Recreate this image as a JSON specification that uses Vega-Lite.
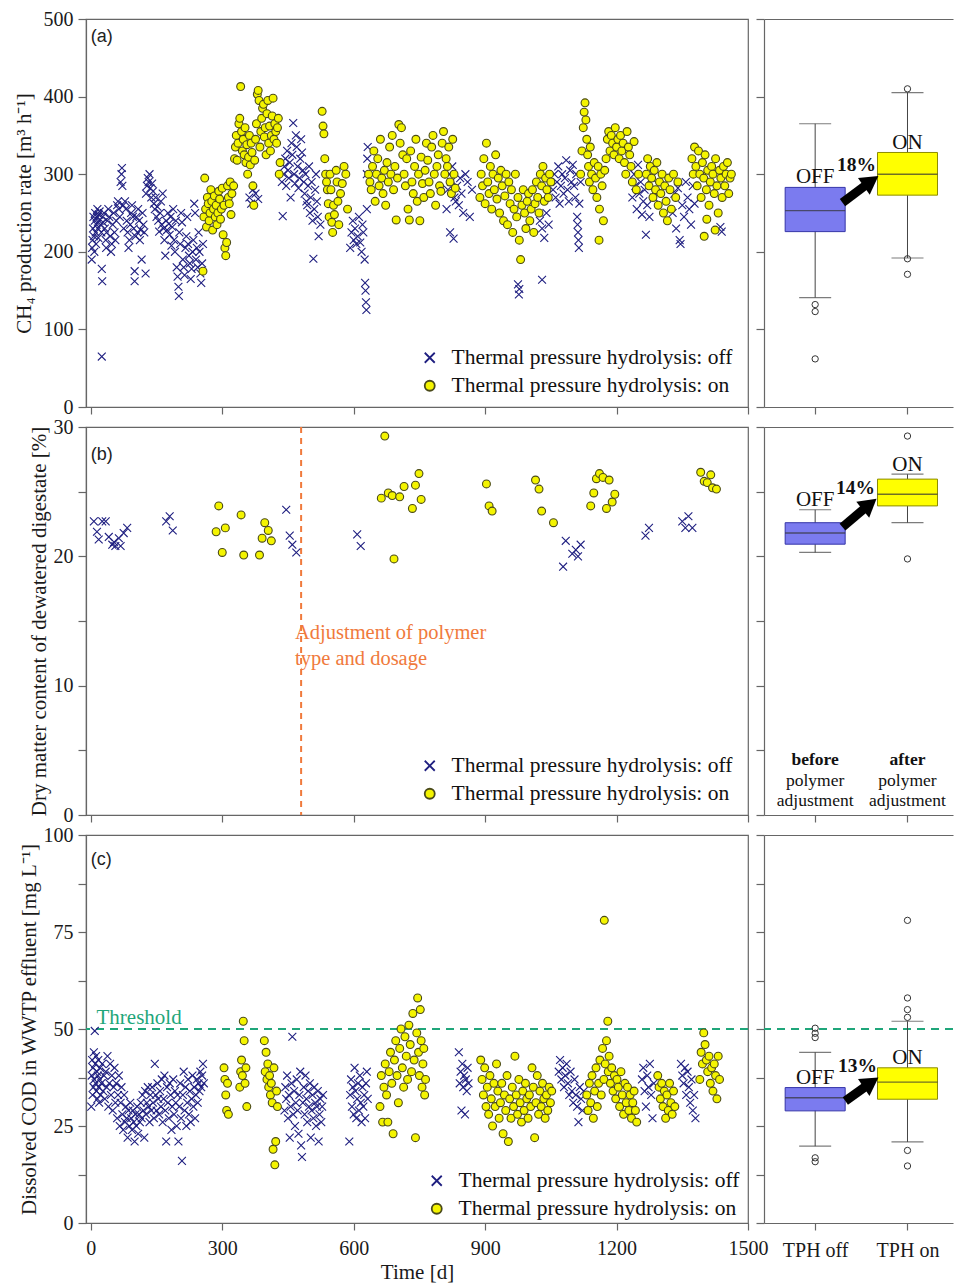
{
"$schema":"https://vega.github.io/schema/vega-lite/v6.json",
"background":"white",
"padding":{"left":12,"top":8,"right":0,"bottom":0},
"config":{
 "font":"Liberation Serif",
 "view":{"stroke":"#666","strokeWidth":1.2},
 "axis":{"grid":false,"domainColor":"#666","domainWidth":1.2,"tickColor":"#666","tickWidth":1.2,"labelFont":"Liberation Serif","labelFontSize":20,"labelColor":"#1a1a1a","labelFlush":false,"labelOverlap":false,"titleFont":"Liberation Serif","titleFontSize":21,"titleFontWeight":"normal","titleColor":"#1a1a1a"},
 "axisX":{"tickSize":7,"labelPadding":3},
 "axisY":{"tickSize":8,"labelPadding":5},
 "legend":{"labelFont":"Liberation Serif","labelFontSize":21.5,"labelColor":"#111","labelLimit":400,"symbolSize":100,"symbolStrokeWidth":1.8,"rowPadding":5,"labelOffset":11,"orient":"none","padding":0}
},
"datasets":{
"a":[
{"d":2,"v":190,"s":"off"},{"d":3,"v":205,"s":"off"},{"d":4,"v":215,"s":"off"},{"d":5,"v":230,"s":"off"},{"d":6,"v":245,"s":"off"},{"d":7,"v":220,"s":"off"},{"d":8,"v":200,"s":"off"},{"d":9,"v":240,"s":"off"},{"d":10,"v":250,"s":"off"},{"d":11,"v":225,"s":"off"},{"d":12,"v":210,"s":"off"},{"d":13,"v":235,"s":"off"},{"d":14,"v":245,"s":"off"},{"d":15,"v":255,"s":"off"},{"d":16,"v":230,"s":"off"},{"d":17,"v":218,"s":"off"},{"d":18,"v":248,"s":"off"},{"d":19,"v":240,"s":"off"},{"d":20,"v":252,"s":"off"},{"d":22,"v":235,"s":"off"},{"d":24,"v":225,"s":"off"},{"d":25,"v":65,"s":"off"},{"d":25,"v":178,"s":"off"},{"d":26,"v":162,"s":"off"},{"d":27,"v":245,"s":"off"},{"d":28,"v":238,"s":"off"},{"d":30,"v":250,"s":"off"},{"d":32,"v":230,"s":"off"},{"d":34,"v":215,"s":"off"},{"d":35,"v":205,"s":"off"},{"d":36,"v":225,"s":"off"},{"d":38,"v":240,"s":"off"},
{"d":40,"v":255,"s":"off"},{"d":42,"v":245,"s":"off"},{"d":44,"v":220,"s":"off"},{"d":46,"v":200,"s":"off"},{"d":48,"v":210,"s":"off"},{"d":50,"v":235,"s":"off"},{"d":52,"v":250,"s":"off"},{"d":54,"v":225,"s":"off"},{"d":56,"v":215,"s":"off"},{"d":58,"v":240,"s":"off"},{"d":60,"v":260,"s":"off"},{"d":62,"v":265,"s":"off"},{"d":64,"v":255,"s":"off"},{"d":66,"v":245,"s":"off"},{"d":68,"v":290,"s":"off"},{"d":70,"v":300,"s":"off"},{"d":71,"v":308,"s":"off"},{"d":72,"v":285,"s":"off"},{"d":74,"v":260,"s":"off"},{"d":75,"v":230,"s":"off"},
{"d":78,"v":265,"s":"off"},{"d":80,"v":255,"s":"off"},{"d":82,"v":240,"s":"off"},{"d":84,"v":225,"s":"off"},{"d":86,"v":205,"s":"off"},{"d":88,"v":215,"s":"off"},{"d":90,"v":235,"s":"off"},{"d":92,"v":250,"s":"off"},{"d":94,"v":260,"s":"off"},{"d":96,"v":245,"s":"off"},{"d":98,"v":230,"s":"off"},{"d":100,"v":175,"s":"off"},{"d":100,"v":162,"s":"off"},{"d":102,"v":220,"s":"off"},{"d":104,"v":245,"s":"off"},{"d":106,"v":225,"s":"off"},{"d":108,"v":255,"s":"off"},{"d":110,"v":240,"s":"off"},{"d":112,"v":215,"s":"off"},{"d":114,"v":228,"s":"off"},{"d":116,"v":190,"s":"off"},{"d":118,"v":250,"s":"off"},{"d":120,"v":235,"s":"off"},{"d":122,"v":225,"s":"off"},
{"d":125,"v":172,"s":"off"},{"d":126,"v":275,"s":"off"},{"d":128,"v":285,"s":"off"},{"d":130,"v":295,"s":"off"},{"d":132,"v":290,"s":"off"},{"d":134,"v":300,"s":"off"},{"d":136,"v":282,"s":"off"},{"d":138,"v":270,"s":"off"},{"d":140,"v":288,"s":"off"},{"d":142,"v":278,"s":"off"},{"d":144,"v":262,"s":"off"},{"d":146,"v":255,"s":"off"},{"d":148,"v":270,"s":"off"},{"d":150,"v":245,"s":"off"},{"d":152,"v":258,"s":"off"},{"d":154,"v":240,"s":"off"},{"d":156,"v":226,"s":"off"},{"d":158,"v":250,"s":"off"},{"d":160,"v":265,"s":"off"},{"d":162,"v":235,"s":"off"},{"d":164,"v":275,"s":"off"},
{"d":166,"v":230,"s":"off"},{"d":168,"v":215,"s":"off"},{"d":170,"v":195,"s":"off"},{"d":172,"v":240,"s":"off"},{"d":174,"v":228,"s":"off"},{"d":176,"v":250,"s":"off"},{"d":178,"v":236,"s":"off"},{"d":180,"v":222,"s":"off"},{"d":182,"v":245,"s":"off"},{"d":184,"v":208,"s":"off"},{"d":186,"v":232,"s":"off"},{"d":188,"v":255,"s":"off"},{"d":190,"v":215,"s":"off"},{"d":192,"v":200,"s":"off"},{"d":194,"v":240,"s":"off"},{"d":196,"v":180,"s":"off"},{"d":198,"v":168,"s":"off"},{"d":200,"v":155,"s":"off"},{"d":201,"v":143,"s":"off"},{"d":202,"v":225,"s":"off"},{"d":204,"v":210,"s":"off"},{"d":206,"v":250,"s":"off"},{"d":208,"v":238,"s":"off"},{"d":210,"v":190,"s":"off"},
{"d":212,"v":180,"s":"off"},{"d":214,"v":170,"s":"off"},{"d":216,"v":205,"s":"off"},{"d":218,"v":220,"s":"off"},{"d":220,"v":245,"s":"off"},{"d":222,"v":210,"s":"off"},{"d":224,"v":195,"s":"off"},{"d":226,"v":185,"s":"off"},{"d":228,"v":165,"s":"off"},{"d":230,"v":178,"s":"off"},{"d":232,"v":200,"s":"off"},{"d":234,"v":215,"s":"off"},{"d":236,"v":262,"s":"off"},{"d":238,"v":250,"s":"off"},{"d":240,"v":190,"s":"off"},{"d":242,"v":205,"s":"off"},{"d":244,"v":180,"s":"off"},{"d":246,"v":225,"s":"off"},{"d":248,"v":200,"s":"off"},{"d":250,"v":172,"s":"off"},{"d":252,"v":160,"s":"off"},{"d":254,"v":185,"s":"off"},{"d":256,"v":210,"s":"off"},
{"d":362,"v":270,"s":"off"},{"d":366,"v":262,"s":"off"},{"d":370,"v":280,"s":"off"},{"d":376,"v":275,"s":"off"},{"d":382,"v":268,"s":"off"},
{"d":436,"v":290,"s":"off"},{"d":438,"v":246,"s":"off"},{"d":440,"v":300,"s":"off"},{"d":442,"v":310,"s":"off"},{"d":444,"v":320,"s":"off"},{"d":446,"v":285,"s":"off"},{"d":448,"v":330,"s":"off"},{"d":450,"v":305,"s":"off"},{"d":452,"v":295,"s":"off"},{"d":454,"v":315,"s":"off"},{"d":456,"v":270,"s":"off"},{"d":458,"v":340,"s":"off"},{"d":460,"v":325,"s":"off"},{"d":462,"v":366,"s":"off"},{"d":464,"v":300,"s":"off"},{"d":466,"v":288,"s":"off"},{"d":468,"v":350,"s":"off"},{"d":470,"v":335,"s":"off"},{"d":472,"v":310,"s":"off"},{"d":474,"v":282,"s":"off"},{"d":476,"v":295,"s":"off"},{"d":478,"v":320,"s":"off"},{"d":480,"v":345,"s":"off"},{"d":482,"v":328,"s":"off"},{"d":484,"v":305,"s":"off"},{"d":486,"v":290,"s":"off"},{"d":488,"v":275,"s":"off"},{"d":490,"v":300,"s":"off"},{"d":492,"v":265,"s":"off"},{"d":494,"v":260,"s":"off"},{"d":496,"v":285,"s":"off"},{"d":498,"v":310,"s":"off"},{"d":500,"v":250,"s":"off"},{"d":502,"v":270,"s":"off"},{"d":504,"v":290,"s":"off"},{"d":506,"v":240,"s":"off"},{"d":508,"v":191,"s":"off"},{"d":510,"v":255,"s":"off"},{"d":512,"v":280,"s":"off"},{"d":514,"v":300,"s":"off"},{"d":516,"v":265,"s":"off"},{"d":518,"v":245,"s":"off"},{"d":520,"v":220,"s":"off"},{"d":524,"v":235,"s":"off"},
{"d":592,"v":205,"s":"off"},{"d":595,"v":225,"s":"off"},{"d":598,"v":240,"s":"off"},{"d":600,"v":215,"s":"off"},{"d":603,"v":230,"s":"off"},{"d":606,"v":210,"s":"off"},{"d":609,"v":220,"s":"off"},{"d":612,"v":245,"s":"off"},{"d":615,"v":212,"s":"off"},{"d":618,"v":200,"s":"off"},{"d":620,"v":235,"s":"off"},{"d":622,"v":225,"s":"off"},{"d":625,"v":190,"s":"off"},{"d":626,"v":160,"s":"off"},{"d":627,"v":150,"s":"off"},{"d":628,"v":135,"s":"off"},{"d":629,"v":125,"s":"off"},{"d":630,"v":300,"s":"off"},{"d":631,"v":320,"s":"off"},{"d":632,"v":335,"s":"off"},{"d":630,"v":255,"s":"off"},
{"d":812,"v":255,"s":"off"},{"d":815,"v":280,"s":"off"},{"d":818,"v":300,"s":"off"},{"d":820,"v":225,"s":"off"},{"d":822,"v":290,"s":"off"},{"d":825,"v":310,"s":"off"},{"d":828,"v":217,"s":"off"},{"d":830,"v":270,"s":"off"},{"d":833,"v":265,"s":"off"},{"d":836,"v":285,"s":"off"},{"d":840,"v":260,"s":"off"},{"d":843,"v":295,"s":"off"},{"d":846,"v":275,"s":"off"},{"d":850,"v":250,"s":"off"},{"d":855,"v":300,"s":"off"},{"d":860,"v":290,"s":"off"},{"d":865,"v":245,"s":"off"},{"d":870,"v":280,"s":"off"},
{"d":975,"v":158,"s":"off"},{"d":977,"v":145,"s":"off"},{"d":978,"v":152,"s":"off"},{"d":1030,"v":164,"s":"off"},{"d":1025,"v":240,"s":"off"},{"d":1030,"v":230,"s":"off"},{"d":1035,"v":218,"s":"off"},{"d":1040,"v":250,"s":"off"},{"d":1045,"v":235,"s":"off"},
{"d":1055,"v":280,"s":"off"},{"d":1058,"v":300,"s":"off"},{"d":1061,"v":270,"s":"off"},{"d":1064,"v":290,"s":"off"},{"d":1067,"v":310,"s":"off"},{"d":1070,"v":262,"s":"off"},{"d":1073,"v":285,"s":"off"},{"d":1076,"v":300,"s":"off"},{"d":1079,"v":275,"s":"off"},{"d":1082,"v":295,"s":"off"},{"d":1085,"v":318,"s":"off"},{"d":1088,"v":280,"s":"off"},{"d":1091,"v":265,"s":"off"},{"d":1094,"v":305,"s":"off"},{"d":1097,"v":290,"s":"off"},{"d":1100,"v":312,"s":"off"},{"d":1103,"v":285,"s":"off"},{"d":1106,"v":270,"s":"off"},{"d":1108,"v":300,"s":"off"},{"d":1110,"v":245,"s":"off"},{"d":1111,"v":235,"s":"off"},{"d":1112,"v":225,"s":"off"},{"d":1113,"v":215,"s":"off"},{"d":1114,"v":205,"s":"off"},{"d":1115,"v":262,"s":"off"},{"d":1118,"v":290,"s":"off"},
{"d":1236,"v":270,"s":"off"},{"d":1240,"v":300,"s":"off"},{"d":1243,"v":285,"s":"off"},{"d":1246,"v":255,"s":"off"},{"d":1249,"v":312,"s":"off"},{"d":1252,"v":275,"s":"off"},{"d":1255,"v":290,"s":"off"},{"d":1258,"v":248,"s":"off"},{"d":1261,"v":265,"s":"off"},{"d":1264,"v":280,"s":"off"},{"d":1267,"v":222,"s":"off"},{"d":1270,"v":260,"s":"off"},{"d":1275,"v":245,"s":"off"},{"d":1280,"v":295,"s":"off"},{"d":1285,"v":270,"s":"off"},
{"d":1328,"v":250,"s":"off"},{"d":1332,"v":275,"s":"off"},{"d":1336,"v":230,"s":"off"},{"d":1340,"v":282,"s":"off"},{"d":1344,"v":215,"s":"off"},{"d":1346,"v":210,"s":"off"},{"d":1350,"v":260,"s":"off"},{"d":1354,"v":245,"s":"off"},{"d":1358,"v":290,"s":"off"},{"d":1362,"v":270,"s":"off"},{"d":1366,"v":255,"s":"off"},{"d":1370,"v":235,"s":"off"},{"d":1374,"v":285,"s":"off"},{"d":1378,"v":262,"s":"off"},
{"d":1437,"v":232,"s":"off"},{"d":1440,"v":226,"s":"off"},
{"d":256,"v":175,"s":"on"},{"d":258,"v":245,"s":"on"},{"d":260,"v":295,"s":"on"},{"d":262,"v":255,"s":"on"},{"d":264,"v":232,"s":"on"},{"d":266,"v":270,"s":"on"},{"d":268,"v":262,"s":"on"},{"d":270,"v":240,"s":"on"},{"d":272,"v":250,"s":"on"},{"d":274,"v":280,"s":"on"},{"d":276,"v":265,"s":"on"},{"d":278,"v":228,"s":"on"},{"d":280,"v":255,"s":"on"},{"d":282,"v":272,"s":"on"},{"d":284,"v":245,"s":"on"},{"d":286,"v":260,"s":"on"},{"d":288,"v":235,"s":"on"},{"d":290,"v":250,"s":"on"},{"d":292,"v":278,"s":"on"},{"d":294,"v":268,"s":"on"},{"d":296,"v":242,"s":"on"},{"d":298,"v":255,"s":"on"},{"d":300,"v":282,"s":"on"},{"d":302,"v":222,"s":"on"},{"d":304,"v":260,"s":"on"},{"d":306,"v":205,"s":"on"},{"d":308,"v":195,"s":"on"},{"d":310,"v":212,"s":"on"},{"d":312,"v":285,"s":"on"},{"d":314,"v":270,"s":"on"},{"d":316,"v":262,"s":"on"},{"d":318,"v":290,"s":"on"},{"d":320,"v":248,"s":"on"},{"d":322,"v":275,"s":"on"},
{"d":326,"v":285,"s":"on"},{"d":328,"v":320,"s":"on"},{"d":330,"v":335,"s":"on"},{"d":332,"v":350,"s":"on"},{"d":334,"v":318,"s":"on"},{"d":336,"v":340,"s":"on"},{"d":338,"v":365,"s":"on"},{"d":340,"v":372,"s":"on"},{"d":342,"v":413,"s":"on"},{"d":344,"v":355,"s":"on"},{"d":346,"v":330,"s":"on"},{"d":348,"v":345,"s":"on"},{"d":350,"v":325,"s":"on"},{"d":352,"v":360,"s":"on"},{"d":354,"v":315,"s":"on"},{"d":356,"v":338,"s":"on"},{"d":358,"v":300,"s":"on"},{"d":360,"v":322,"s":"on"},{"d":362,"v":350,"s":"on"},{"d":364,"v":312,"s":"on"},{"d":366,"v":340,"s":"on"},{"d":368,"v":328,"s":"on"},{"d":370,"v":285,"s":"on"},{"d":372,"v":260,"s":"on"},
{"d":374,"v":318,"s":"on"},{"d":376,"v":345,"s":"on"},{"d":378,"v":365,"s":"on"},{"d":380,"v":403,"s":"on"},{"d":382,"v":408,"s":"on"},{"d":384,"v":395,"s":"on"},{"d":386,"v":335,"s":"on"},{"d":388,"v":355,"s":"on"},{"d":390,"v":372,"s":"on"},{"d":392,"v":385,"s":"on"},{"d":394,"v":390,"s":"on"},{"d":396,"v":348,"s":"on"},{"d":398,"v":360,"s":"on"},{"d":400,"v":325,"s":"on"},{"d":402,"v":378,"s":"on"},{"d":404,"v":395,"s":"on"},{"d":406,"v":340,"s":"on"},{"d":408,"v":362,"s":"on"},{"d":410,"v":330,"s":"on"},{"d":412,"v":350,"s":"on"},{"d":414,"v":375,"s":"on"},{"d":416,"v":398,"s":"on"},{"d":418,"v":345,"s":"on"},{"d":420,"v":365,"s":"on"},{"d":422,"v":355,"s":"on"},{"d":424,"v":340,"s":"on"},{"d":426,"v":360,"s":"on"},{"d":428,"v":372,"s":"on"},{"d":430,"v":300,"s":"on"},{"d":432,"v":315,"s":"on"},
{"d":528,"v":381,"s":"on"},{"d":530,"v":362,"s":"on"},{"d":532,"v":352,"s":"on"},{"d":534,"v":320,"s":"on"},{"d":536,"v":300,"s":"on"},{"d":538,"v":290,"s":"on"},{"d":540,"v":280,"s":"on"},{"d":542,"v":262,"s":"on"},{"d":544,"v":245,"s":"on"},{"d":546,"v":300,"s":"on"},{"d":548,"v":280,"s":"on"},{"d":550,"v":238,"s":"on"},{"d":552,"v":225,"s":"on"},{"d":554,"v":260,"s":"on"},{"d":556,"v":248,"s":"on"},{"d":560,"v":305,"s":"on"},{"d":562,"v":290,"s":"on"},{"d":564,"v":265,"s":"on"},{"d":566,"v":235,"s":"on"},{"d":570,"v":275,"s":"on"},{"d":574,"v":288,"s":"on"},{"d":578,"v":310,"s":"on"},{"d":582,"v":300,"s":"on"},{"d":586,"v":255,"s":"on"},
{"d":634,"v":300,"s":"on"},{"d":637,"v":290,"s":"on"},{"d":640,"v":280,"s":"on"},{"d":643,"v":310,"s":"on"},{"d":646,"v":330,"s":"on"},{"d":649,"v":265,"s":"on"},{"d":652,"v":300,"s":"on"},{"d":655,"v":320,"s":"on"},{"d":658,"v":285,"s":"on"},{"d":661,"v":345,"s":"on"},{"d":664,"v":295,"s":"on"},{"d":667,"v":275,"s":"on"},{"d":670,"v":305,"s":"on"},{"d":673,"v":260,"s":"on"},{"d":676,"v":315,"s":"on"},{"d":679,"v":290,"s":"on"},{"d":682,"v":335,"s":"on"},{"d":685,"v":300,"s":"on"},{"d":688,"v":350,"s":"on"},{"d":691,"v":280,"s":"on"},{"d":694,"v":310,"s":"on"},{"d":697,"v":241,"s":"on"},{"d":700,"v":295,"s":"on"},{"d":703,"v":364,"s":"on"},{"d":706,"v":340,"s":"on"},{"d":709,"v":360,"s":"on"},{"d":712,"v":325,"s":"on"},{"d":715,"v":300,"s":"on"},{"d":718,"v":285,"s":"on"},{"d":721,"v":320,"s":"on"},{"d":724,"v":255,"s":"on"},{"d":727,"v":241,"s":"on"},{"d":730,"v":330,"s":"on"},{"d":733,"v":290,"s":"on"},{"d":736,"v":275,"s":"on"},{"d":739,"v":310,"s":"on"},{"d":742,"v":345,"s":"on"},{"d":745,"v":265,"s":"on"},{"d":748,"v":300,"s":"on"},{"d":751,"v":240,"s":"on"},{"d":754,"v":322,"s":"on"},{"d":757,"v":288,"s":"on"},{"d":760,"v":270,"s":"on"},{"d":763,"v":305,"s":"on"},{"d":766,"v":340,"s":"on"},{"d":769,"v":318,"s":"on"},{"d":772,"v":290,"s":"on"},{"d":775,"v":275,"s":"on"},{"d":778,"v":335,"s":"on"},{"d":781,"v":350,"s":"on"},{"d":784,"v":300,"s":"on"},{"d":787,"v":260,"s":"on"},{"d":790,"v":310,"s":"on"},{"d":793,"v":325,"s":"on"},{"d":796,"v":285,"s":"on"},{"d":799,"v":278,"s":"on"},{"d":802,"v":340,"s":"on"},{"d":805,"v":355,"s":"on"},{"d":808,"v":300,"s":"on"},{"d":811,"v":320,"s":"on"},{"d":814,"v":310,"s":"on"},{"d":817,"v":335,"s":"on"},{"d":820,"v":290,"s":"on"},{"d":823,"v":275,"s":"on"},{"d":826,"v":345,"s":"on"},{"d":829,"v":300,"s":"on"},{"d":832,"v":282,"s":"on"},
{"d":888,"v":270,"s":"on"},{"d":891,"v":300,"s":"on"},{"d":894,"v":285,"s":"on"},{"d":897,"v":320,"s":"on"},{"d":900,"v":262,"s":"on"},{"d":903,"v":340,"s":"on"},{"d":906,"v":290,"s":"on"},{"d":909,"v":275,"s":"on"},{"d":912,"v":310,"s":"on"},{"d":915,"v":255,"s":"on"},{"d":918,"v":300,"s":"on"},{"d":921,"v":280,"s":"on"},{"d":924,"v":325,"s":"on"},{"d":927,"v":268,"s":"on"},{"d":930,"v":295,"s":"on"},{"d":933,"v":250,"s":"on"},{"d":936,"v":305,"s":"on"},{"d":939,"v":285,"s":"on"},{"d":942,"v":240,"s":"on"},{"d":945,"v":272,"s":"on"},{"d":948,"v":300,"s":"on"},{"d":951,"v":235,"s":"on"},{"d":954,"v":290,"s":"on"},{"d":957,"v":262,"s":"on"},{"d":960,"v":280,"s":"on"},{"d":963,"v":225,"s":"on"},{"d":966,"v":255,"s":"on"},{"d":969,"v":300,"s":"on"},{"d":972,"v":245,"s":"on"},{"d":975,"v":270,"s":"on"},{"d":978,"v":215,"s":"on"},{"d":981,"v":190,"s":"on"},{"d":984,"v":260,"s":"on"},{"d":987,"v":280,"s":"on"},{"d":990,"v":250,"s":"on"},{"d":993,"v":230,"s":"on"},{"d":996,"v":265,"s":"on"},{"d":999,"v":275,"s":"on"},{"d":1002,"v":240,"s":"on"},{"d":1005,"v":255,"s":"on"},{"d":1008,"v":280,"s":"on"},{"d":1011,"v":225,"s":"on"},{"d":1014,"v":262,"s":"on"},{"d":1017,"v":290,"s":"on"},{"d":1020,"v":270,"s":"on"},{"d":1023,"v":250,"s":"on"},{"d":1026,"v":300,"s":"on"},{"d":1029,"v":285,"s":"on"},{"d":1032,"v":310,"s":"on"},{"d":1035,"v":265,"s":"on"},{"d":1038,"v":295,"s":"on"},{"d":1041,"v":280,"s":"on"},{"d":1044,"v":270,"s":"on"},{"d":1047,"v":300,"s":"on"},{"d":1050,"v":290,"s":"on"},
{"d":1118,"v":300,"s":"on"},{"d":1121,"v":330,"s":"on"},{"d":1124,"v":360,"s":"on"},{"d":1126,"v":380,"s":"on"},{"d":1128,"v":392,"s":"on"},{"d":1130,"v":370,"s":"on"},{"d":1132,"v":345,"s":"on"},{"d":1134,"v":325,"s":"on"},{"d":1136,"v":310,"s":"on"},{"d":1138,"v":290,"s":"on"},{"d":1140,"v":335,"s":"on"},{"d":1143,"v":300,"s":"on"},{"d":1146,"v":280,"s":"on"},{"d":1149,"v":315,"s":"on"},{"d":1152,"v":295,"s":"on"},{"d":1155,"v":270,"s":"on"},{"d":1158,"v":310,"s":"on"},{"d":1160,"v":215,"s":"on"},{"d":1161,"v":255,"s":"on"},{"d":1164,"v":300,"s":"on"},{"d":1167,"v":285,"s":"on"},{"d":1170,"v":240,"s":"on"},{"d":1173,"v":305,"s":"on"},{"d":1176,"v":320,"s":"on"},{"d":1179,"v":345,"s":"on"},{"d":1182,"v":355,"s":"on"},{"d":1185,"v":330,"s":"on"},{"d":1188,"v":350,"s":"on"},{"d":1191,"v":340,"s":"on"},{"d":1194,"v":325,"s":"on"},{"d":1197,"v":360,"s":"on"},{"d":1200,"v":335,"s":"on"},{"d":1203,"v":345,"s":"on"},{"d":1206,"v":320,"s":"on"},{"d":1209,"v":350,"s":"on"},{"d":1212,"v":330,"s":"on"},{"d":1215,"v":340,"s":"on"},{"d":1218,"v":315,"s":"on"},{"d":1221,"v":300,"s":"on"},{"d":1224,"v":355,"s":"on"},{"d":1227,"v":335,"s":"on"},{"d":1230,"v":325,"s":"on"},{"d":1233,"v":310,"s":"on"},{"d":1236,"v":290,"s":"on"},{"d":1240,"v":342,"s":"on"},{"d":1245,"v":280,"s":"on"},{"d":1250,"v":300,"s":"on"},
{"d":1268,"v":300,"s":"on"},{"d":1271,"v":320,"s":"on"},{"d":1274,"v":285,"s":"on"},{"d":1277,"v":310,"s":"on"},{"d":1280,"v":295,"s":"on"},{"d":1283,"v":270,"s":"on"},{"d":1286,"v":305,"s":"on"},{"d":1289,"v":280,"s":"on"},{"d":1292,"v":315,"s":"on"},{"d":1295,"v":260,"s":"on"},{"d":1298,"v":290,"s":"on"},{"d":1301,"v":275,"s":"on"},{"d":1304,"v":300,"s":"on"},{"d":1307,"v":250,"s":"on"},{"d":1310,"v":285,"s":"on"},{"d":1313,"v":265,"s":"on"},{"d":1316,"v":240,"s":"on"},{"d":1319,"v":295,"s":"on"},{"d":1322,"v":280,"s":"on"},{"d":1325,"v":255,"s":"on"},{"d":1330,"v":300,"s":"on"},{"d":1335,"v":270,"s":"on"},{"d":1340,"v":290,"s":"on"},
{"d":1372,"v":320,"s":"on"},{"d":1375,"v":300,"s":"on"},{"d":1378,"v":335,"s":"on"},{"d":1381,"v":310,"s":"on"},{"d":1384,"v":285,"s":"on"},{"d":1387,"v":330,"s":"on"},{"d":1390,"v":300,"s":"on"},{"d":1393,"v":270,"s":"on"},{"d":1396,"v":315,"s":"on"},{"d":1399,"v":295,"s":"on"},{"d":1400,"v":220,"s":"on"},{"d":1402,"v":325,"s":"on"},{"d":1405,"v":280,"s":"on"},{"d":1406,"v":242,"s":"on"},{"d":1408,"v":305,"s":"on"},{"d":1411,"v":260,"s":"on"},{"d":1414,"v":290,"s":"on"},{"d":1417,"v":310,"s":"on"},{"d":1420,"v":300,"s":"on"},{"d":1423,"v":275,"s":"on"},{"d":1425,"v":228,"s":"on"},{"d":1426,"v":320,"s":"on"},{"d":1429,"v":285,"s":"on"},{"d":1432,"v":250,"s":"on"},{"d":1435,"v":305,"s":"on"},{"d":1438,"v":295,"s":"on"},{"d":1441,"v":270,"s":"on"},{"d":1444,"v":310,"s":"on"},{"d":1447,"v":285,"s":"on"},{"d":1450,"v":300,"s":"on"},{"d":1453,"v":315,"s":"on"},{"d":1456,"v":275,"s":"on"},{"d":1459,"v":295,"s":"on"},{"d":1462,"v":300,"s":"on"}
],
"b":[
{"d":7,"v":22.7,"s":"off"},{"d":14,"v":21.9,"s":"off"},{"d":18,"v":21.3,"s":"off"},{"d":26,"v":22.7,"s":"off"},{"d":34,"v":22.7,"s":"off"},{"d":41,"v":21.5,"s":"off"},{"d":49,"v":20.9,"s":"off"},{"d":53,"v":21.1,"s":"off"},{"d":56,"v":20.8,"s":"off"},{"d":64,"v":21.4,"s":"off"},{"d":68,"v":20.8,"s":"off"},{"d":75,"v":21.8,"s":"off"},{"d":83,"v":22.2,"s":"off"},{"d":172,"v":22.7,"s":"off"},{"d":180,"v":23.1,"s":"off"},{"d":187,"v":22.0,"s":"off"},{"d":446,"v":23.6,"s":"off"},{"d":454,"v":21.6,"s":"off"},{"d":460,"v":20.9,"s":"off"},{"d":469,"v":20.3,"s":"off"},{"d":608,"v":21.7,"s":"off"},{"d":616,"v":20.8,"s":"off"},{"d":1078,"v":19.2,"s":"off"},{"d":1084,"v":21.2,"s":"off"},{"d":1099,"v":20.2,"s":"off"},{"d":1107,"v":20.5,"s":"off"},{"d":1112,"v":20.0,"s":"off"},{"d":1118,"v":20.9,"s":"off"},{"d":1266,"v":21.6,"s":"off"},{"d":1274,"v":22.2,"s":"off"},{"d":1350,"v":22.7,"s":"off"},{"d":1357,"v":22.2,"s":"off"},{"d":1364,"v":23.1,"s":"off"},{"d":1373,"v":22.2,"s":"off"},
{"d":286,"v":21.9,"s":"on"},{"d":292,"v":23.9,"s":"on"},{"d":300,"v":20.3,"s":"on"},{"d":307,"v":22.2,"s":"on"},{"d":343,"v":23.2,"s":"on"},{"d":349,"v":20.1,"s":"on"},{"d":385,"v":20.1,"s":"on"},{"d":391,"v":21.4,"s":"on"},{"d":397,"v":22.6,"s":"on"},{"d":405,"v":22.0,"s":"on"},{"d":412,"v":21.2,"s":"on"},{"d":663,"v":24.5,"s":"on"},{"d":671,"v":29.3,"s":"on"},{"d":679,"v":24.9,"s":"on"},{"d":688,"v":24.7,"s":"on"},{"d":692,"v":19.8,"s":"on"},{"d":705,"v":24.6,"s":"on"},{"d":715,"v":25.4,"s":"on"},{"d":734,"v":23.7,"s":"on"},{"d":741,"v":25.5,"s":"on"},{"d":749,"v":26.4,"s":"on"},{"d":754,"v":24.4,"s":"on"},{"d":903,"v":25.6,"s":"on"},{"d":909,"v":23.9,"s":"on"},{"d":916,"v":23.5,"s":"on"},{"d":1015,"v":25.9,"s":"on"},{"d":1023,"v":25.2,"s":"on"},{"d":1029,"v":23.5,"s":"on"},{"d":1056,"v":22.6,"s":"on"},{"d":1141,"v":23.9,"s":"on"},{"d":1148,"v":24.9,"s":"on"},{"d":1154,"v":26.0,"s":"on"},{"d":1161,"v":26.4,"s":"on"},{"d":1169,"v":26.1,"s":"on"},{"d":1177,"v":23.7,"s":"on"},{"d":1183,"v":25.9,"s":"on"},{"d":1190,"v":24.2,"s":"on"},{"d":1196,"v":24.8,"s":"on"},{"d":1392,"v":26.5,"s":"on"},{"d":1400,"v":25.8,"s":"on"},{"d":1407,"v":25.7,"s":"on"},{"d":1415,"v":26.3,"s":"on"},{"d":1419,"v":25.3,"s":"on"},{"d":1428,"v":25.2,"s":"on"}
],
"c":[
{"d":1,"v":30,"s":"off"},{"d":2,"v":38,"s":"off"},{"d":3,"v":42,"s":"off"},{"d":4,"v":33,"s":"off"},{"d":5,"v":40,"s":"off"},{"d":6,"v":35,"s":"off"},{"d":7,"v":44,"s":"off"},{"d":8,"v":37,"s":"off"},{"d":9,"v":49.5,"s":"off"},{"d":10,"v":41,"s":"off"},{"d":11,"v":36,"s":"off"},{"d":12,"v":43,"s":"off"},{"d":13,"v":34,"s":"off"},{"d":14,"v":39,"s":"off"},{"d":15,"v":32,"s":"off"},{"d":16,"v":38,"s":"off"},{"d":17,"v":42,"s":"off"},{"d":18,"v":35,"s":"off"},{"d":19,"v":31,"s":"off"},{"d":20,"v":37,"s":"off"},{"d":21,"v":40,"s":"off"},{"d":22,"v":33,"s":"off"},{"d":24,"v":36,"s":"off"},{"d":26,"v":41,"s":"off"},{"d":28,"v":34,"s":"off"},{"d":30,"v":38,"s":"off"},
{"d":32,"v":32,"s":"off"},{"d":34,"v":39,"s":"off"},{"d":36,"v":35,"s":"off"},{"d":38,"v":43,"s":"off"},{"d":40,"v":30,"s":"off"},{"d":42,"v":36,"s":"off"},{"d":44,"v":41,"s":"off"},{"d":46,"v":33,"s":"off"},{"d":48,"v":38,"s":"off"},{"d":50,"v":29,"s":"off"},{"d":52,"v":35,"s":"off"},{"d":54,"v":40,"s":"off"},{"d":56,"v":31,"s":"off"},{"d":58,"v":36,"s":"off"},{"d":60,"v":27,"s":"off"},{"d":62,"v":33,"s":"off"},{"d":64,"v":38,"s":"off"},{"d":66,"v":25,"s":"off"},{"d":68,"v":31,"s":"off"},{"d":70,"v":35,"s":"off"},{"d":72,"v":28,"s":"off"},{"d":74,"v":24,"s":"off"},{"d":76,"v":33,"s":"off"},{"d":78,"v":26,"s":"off"},{"d":80,"v":30,"s":"off"},
{"d":82,"v":27,"s":"off"},{"d":84,"v":22,"s":"off"},{"d":86,"v":29,"s":"off"},{"d":88,"v":25,"s":"off"},{"d":90,"v":31,"s":"off"},{"d":92,"v":27,"s":"off"},{"d":94,"v":24,"s":"off"},{"d":96,"v":29,"s":"off"},{"d":98,"v":26,"s":"off"},{"d":100,"v":21,"s":"off"},{"d":102,"v":28,"s":"off"},{"d":104,"v":25,"s":"off"},{"d":106,"v":30,"s":"off"},{"d":108,"v":23,"s":"off"},{"d":110,"v":28,"s":"off"},{"d":112,"v":26,"s":"off"},{"d":114,"v":31,"s":"off"},{"d":116,"v":27,"s":"off"},{"d":118,"v":33,"s":"off"},{"d":120,"v":29,"s":"off"},{"d":122,"v":22,"s":"off"},{"d":124,"v":34,"s":"off"},{"d":126,"v":28,"s":"off"},{"d":128,"v":31,"s":"off"},{"d":130,"v":35,"s":"off"},
{"d":132,"v":30,"s":"off"},{"d":134,"v":26,"s":"off"},{"d":136,"v":33,"s":"off"},{"d":138,"v":29,"s":"off"},{"d":140,"v":35,"s":"off"},{"d":142,"v":31,"s":"off"},{"d":144,"v":27,"s":"off"},{"d":146,"v":41,"s":"off"},{"d":148,"v":33,"s":"off"},{"d":150,"v":29,"s":"off"},{"d":152,"v":36,"s":"off"},{"d":154,"v":32,"s":"off"},{"d":156,"v":28,"s":"off"},{"d":158,"v":34,"s":"off"},{"d":160,"v":30,"s":"off"},{"d":162,"v":37,"s":"off"},{"d":164,"v":26,"s":"off"},{"d":166,"v":32,"s":"off"},{"d":168,"v":38,"s":"off"},{"d":170,"v":29,"s":"off"},{"d":172,"v":21,"s":"off"},{"d":174,"v":35,"s":"off"},{"d":176,"v":31,"s":"off"},{"d":178,"v":27,"s":"off"},{"d":180,"v":36,"s":"off"},{"d":182,"v":33,"s":"off"},{"d":184,"v":24,"s":"off"},{"d":186,"v":30,"s":"off"},{"d":188,"v":37,"s":"off"},{"d":190,"v":28,"s":"off"},{"d":192,"v":34,"s":"off"},{"d":194,"v":31,"s":"off"},{"d":196,"v":25,"s":"off"},{"d":198,"v":33,"s":"off"},
{"d":200,"v":21,"s":"off"},{"d":202,"v":30,"s":"off"},{"d":204,"v":36,"s":"off"},{"d":206,"v":27,"s":"off"},{"d":208,"v":16,"s":"off"},{"d":210,"v":33,"s":"off"},{"d":212,"v":39,"s":"off"},{"d":214,"v":29,"s":"off"},{"d":216,"v":35,"s":"off"},{"d":218,"v":25,"s":"off"},{"d":220,"v":31,"s":"off"},{"d":222,"v":37,"s":"off"},{"d":224,"v":28,"s":"off"},{"d":226,"v":34,"s":"off"},{"d":228,"v":26,"s":"off"},{"d":230,"v":32,"s":"off"},{"d":232,"v":38,"s":"off"},{"d":234,"v":30,"s":"off"},{"d":236,"v":35,"s":"off"},{"d":238,"v":27,"s":"off"},{"d":240,"v":33,"s":"off"},{"d":242,"v":37,"s":"off"},{"d":244,"v":31,"s":"off"},{"d":246,"v":36,"s":"off"},{"d":248,"v":34,"s":"off"},{"d":250,"v":39,"s":"off"},{"d":252,"v":35,"s":"off"},{"d":254,"v":38,"s":"off"},{"d":256,"v":41,"s":"off"},{"d":258,"v":36,"s":"off"},
{"d":442,"v":29,"s":"off"},{"d":444,"v":35,"s":"off"},{"d":446,"v":32,"s":"off"},{"d":448,"v":38,"s":"off"},{"d":450,"v":27,"s":"off"},{"d":452,"v":33,"s":"off"},{"d":454,"v":22,"s":"off"},{"d":456,"v":30,"s":"off"},{"d":458,"v":36,"s":"off"},{"d":460,"v":48,"s":"off"},{"d":462,"v":28,"s":"off"},{"d":464,"v":34,"s":"off"},{"d":466,"v":25,"s":"off"},{"d":468,"v":31,"s":"off"},{"d":470,"v":37,"s":"off"},{"d":472,"v":29,"s":"off"},{"d":474,"v":23,"s":"off"},{"d":476,"v":33,"s":"off"},{"d":478,"v":39,"s":"off"},{"d":480,"v":20,"s":"off"},{"d":482,"v":17,"s":"off"},{"d":484,"v":31,"s":"off"},{"d":486,"v":35,"s":"off"},{"d":488,"v":28,"s":"off"},{"d":490,"v":38,"s":"off"},{"d":492,"v":32,"s":"off"},{"d":494,"v":26,"s":"off"},{"d":496,"v":34,"s":"off"},{"d":498,"v":30,"s":"off"},{"d":500,"v":36,"s":"off"},{"d":502,"v":22,"s":"off"},{"d":504,"v":29,"s":"off"},{"d":506,"v":33,"s":"off"},{"d":508,"v":27,"s":"off"},{"d":510,"v":35,"s":"off"},{"d":512,"v":31,"s":"off"},{"d":514,"v":25,"s":"off"},{"d":516,"v":30,"s":"off"},{"d":518,"v":34,"s":"off"},{"d":520,"v":21,"s":"off"},{"d":522,"v":28,"s":"off"},{"d":524,"v":32,"s":"off"},{"d":526,"v":26,"s":"off"},{"d":528,"v":30,"s":"off"},{"d":530,"v":33,"s":"off"},
{"d":590,"v":21,"s":"off"},{"d":592,"v":33,"s":"off"},{"d":594,"v":37,"s":"off"},{"d":596,"v":30,"s":"off"},{"d":598,"v":35,"s":"off"},{"d":600,"v":28,"s":"off"},{"d":602,"v":40,"s":"off"},{"d":604,"v":34,"s":"off"},{"d":606,"v":27,"s":"off"},{"d":608,"v":32,"s":"off"},{"d":610,"v":36,"s":"off"},{"d":612,"v":29,"s":"off"},{"d":614,"v":38,"s":"off"},{"d":616,"v":31,"s":"off"},{"d":618,"v":26,"s":"off"},{"d":620,"v":35,"s":"off"},{"d":622,"v":30,"s":"off"},{"d":624,"v":33,"s":"off"},{"d":626,"v":27,"s":"off"},{"d":628,"v":36,"s":"off"},{"d":630,"v":39,"s":"off"},{"d":632,"v":32,"s":"off"},
{"d":840,"v":44,"s":"off"},{"d":842,"v":36,"s":"off"},{"d":844,"v":39,"s":"off"},{"d":846,"v":29,"s":"off"},{"d":848,"v":41,"s":"off"},{"d":850,"v":35,"s":"off"},{"d":852,"v":38,"s":"off"},{"d":854,"v":28,"s":"off"},{"d":856,"v":37,"s":"off"},{"d":858,"v":34,"s":"off"},{"d":860,"v":40,"s":"off"},{"d":862,"v":36,"s":"off"},
{"d":1068,"v":39,"s":"off"},{"d":1071,"v":42,"s":"off"},{"d":1074,"v":37,"s":"off"},{"d":1077,"v":40,"s":"off"},{"d":1080,"v":35,"s":"off"},{"d":1083,"v":38,"s":"off"},{"d":1086,"v":41,"s":"off"},{"d":1089,"v":36,"s":"off"},{"d":1092,"v":33,"s":"off"},{"d":1095,"v":39,"s":"off"},{"d":1098,"v":34,"s":"off"},{"d":1101,"v":31,"s":"off"},{"d":1104,"v":37,"s":"off"},{"d":1107,"v":33,"s":"off"},{"d":1110,"v":30,"s":"off"},{"d":1113,"v":26,"s":"off"},{"d":1116,"v":35,"s":"off"},{"d":1119,"v":32,"s":"off"},{"d":1122,"v":29,"s":"off"},{"d":1125,"v":34,"s":"off"},
{"d":1258,"v":37,"s":"off"},{"d":1261,"v":40,"s":"off"},{"d":1264,"v":34,"s":"off"},{"d":1267,"v":30,"s":"off"},{"d":1270,"v":38,"s":"off"},{"d":1273,"v":35,"s":"off"},{"d":1276,"v":41,"s":"off"},{"d":1279,"v":33,"s":"off"},{"d":1282,"v":27,"s":"off"},{"d":1285,"v":36,"s":"off"},
{"d":1347,"v":41,"s":"off"},{"d":1350,"v":38,"s":"off"},{"d":1353,"v":36,"s":"off"},{"d":1356,"v":40,"s":"off"},{"d":1359,"v":33,"s":"off"},{"d":1362,"v":39,"s":"off"},{"d":1365,"v":35,"s":"off"},{"d":1368,"v":31,"s":"off"},{"d":1371,"v":37,"s":"off"},{"d":1374,"v":29,"s":"off"},{"d":1377,"v":33,"s":"off"},{"d":1380,"v":27,"s":"off"},
{"d":304,"v":40,"s":"on"},{"d":306,"v":37,"s":"on"},{"d":308,"v":33,"s":"on"},{"d":310,"v":29,"s":"on"},{"d":312,"v":36,"s":"on"},{"d":314,"v":28,"s":"on"},
{"d":340,"v":35,"s":"on"},{"d":342,"v":39,"s":"on"},{"d":344,"v":42,"s":"on"},{"d":346,"v":38,"s":"on"},{"d":348,"v":52,"s":"on"},{"d":350,"v":47,"s":"on"},{"d":352,"v":36,"s":"on"},{"d":354,"v":40,"s":"on"},{"d":356,"v":30,"s":"on"},
{"d":396,"v":47,"s":"on"},{"d":398,"v":39,"s":"on"},{"d":400,"v":44,"s":"on"},{"d":402,"v":37,"s":"on"},{"d":404,"v":41,"s":"on"},{"d":406,"v":35,"s":"on"},{"d":408,"v":38,"s":"on"},{"d":410,"v":33,"s":"on"},{"d":412,"v":36,"s":"on"},{"d":414,"v":31,"s":"on"},{"d":416,"v":19,"s":"on"},{"d":418,"v":40,"s":"on"},{"d":420,"v":15,"s":"on"},{"d":422,"v":21,"s":"on"},{"d":424,"v":34,"s":"on"},{"d":426,"v":30,"s":"on"},
{"d":660,"v":30,"s":"on"},{"d":663,"v":38,"s":"on"},{"d":666,"v":26,"s":"on"},{"d":669,"v":35,"s":"on"},{"d":672,"v":41,"s":"on"},{"d":675,"v":33,"s":"on"},{"d":678,"v":26,"s":"on"},{"d":681,"v":39,"s":"on"},{"d":684,"v":44,"s":"on"},{"d":687,"v":36,"s":"on"},{"d":690,"v":23,"s":"on"},{"d":693,"v":42,"s":"on"},{"d":696,"v":47,"s":"on"},{"d":699,"v":38,"s":"on"},{"d":702,"v":31,"s":"on"},{"d":705,"v":45,"s":"on"},{"d":708,"v":50,"s":"on"},{"d":711,"v":40,"s":"on"},{"d":714,"v":35,"s":"on"},{"d":717,"v":48,"s":"on"},{"d":720,"v":43,"s":"on"},{"d":723,"v":37,"s":"on"},{"d":726,"v":51,"s":"on"},{"d":729,"v":46,"s":"on"},{"d":732,"v":39,"s":"on"},{"d":735,"v":54,"s":"on"},{"d":738,"v":42,"s":"on"},{"d":741,"v":22,"s":"on"},{"d":744,"v":49,"s":"on"},{"d":746,"v":58,"s":"on"},{"d":748,"v":44,"s":"on"},{"d":750,"v":38,"s":"on"},{"d":752,"v":55,"s":"on"},{"d":754,"v":47,"s":"on"},{"d":756,"v":35,"s":"on"},{"d":758,"v":41,"s":"on"},{"d":760,"v":45,"s":"on"},{"d":762,"v":33,"s":"on"},{"d":764,"v":37,"s":"on"},
{"d":890,"v":42,"s":"on"},{"d":893,"v":37,"s":"on"},{"d":896,"v":33,"s":"on"},{"d":899,"v":40,"s":"on"},{"d":902,"v":30,"s":"on"},{"d":905,"v":35,"s":"on"},{"d":908,"v":28,"s":"on"},{"d":911,"v":38,"s":"on"},{"d":914,"v":32,"s":"on"},{"d":917,"v":25,"s":"on"},{"d":920,"v":36,"s":"on"},{"d":923,"v":30,"s":"on"},{"d":926,"v":41,"s":"on"},{"d":929,"v":34,"s":"on"},{"d":932,"v":27,"s":"on"},{"d":935,"v":31,"s":"on"},{"d":938,"v":36,"s":"on"},{"d":941,"v":23,"s":"on"},{"d":944,"v":33,"s":"on"},{"d":947,"v":29,"s":"on"},{"d":950,"v":38,"s":"on"},{"d":953,"v":21,"s":"on"},{"d":956,"v":32,"s":"on"},{"d":959,"v":27,"s":"on"},{"d":962,"v":35,"s":"on"},{"d":965,"v":30,"s":"on"},{"d":968,"v":43,"s":"on"},{"d":971,"v":33,"s":"on"},{"d":974,"v":28,"s":"on"},{"d":977,"v":37,"s":"on"},{"d":980,"v":31,"s":"on"},{"d":983,"v":26,"s":"on"},{"d":986,"v":34,"s":"on"},{"d":989,"v":29,"s":"on"},{"d":992,"v":36,"s":"on"},{"d":995,"v":32,"s":"on"},{"d":998,"v":27,"s":"on"},{"d":1001,"v":33,"s":"on"},{"d":1004,"v":30,"s":"on"},{"d":1007,"v":40,"s":"on"},{"d":1010,"v":35,"s":"on"},{"d":1013,"v":22,"s":"on"},{"d":1016,"v":31,"s":"on"},{"d":1019,"v":38,"s":"on"},{"d":1022,"v":28,"s":"on"},{"d":1025,"v":34,"s":"on"},{"d":1028,"v":30,"s":"on"},{"d":1031,"v":36,"s":"on"},{"d":1034,"v":32,"s":"on"},{"d":1037,"v":27,"s":"on"},{"d":1040,"v":33,"s":"on"},{"d":1043,"v":29,"s":"on"},{"d":1046,"v":35,"s":"on"},{"d":1049,"v":31,"s":"on"},{"d":1052,"v":34,"s":"on"},
{"d":1132,"v":33,"s":"on"},{"d":1135,"v":29,"s":"on"},{"d":1138,"v":36,"s":"on"},{"d":1141,"v":31,"s":"on"},{"d":1144,"v":38,"s":"on"},{"d":1147,"v":27,"s":"on"},{"d":1150,"v":34,"s":"on"},{"d":1153,"v":40,"s":"on"},{"d":1156,"v":30,"s":"on"},{"d":1159,"v":36,"s":"on"},{"d":1162,"v":42,"s":"on"},{"d":1165,"v":33,"s":"on"},{"d":1168,"v":45,"s":"on"},{"d":1171,"v":37,"s":"on"},{"d":1172,"v":78,"s":"on"},{"d":1174,"v":41,"s":"on"},{"d":1177,"v":47,"s":"on"},{"d":1180,"v":52,"s":"on"},{"d":1181,"v":39,"s":"on"},{"d":1183,"v":43,"s":"on"},{"d":1186,"v":36,"s":"on"},{"d":1189,"v":40,"s":"on"},{"d":1192,"v":34,"s":"on"},{"d":1195,"v":38,"s":"on"},{"d":1198,"v":32,"s":"on"},{"d":1201,"v":37,"s":"on"},{"d":1204,"v":35,"s":"on"},{"d":1207,"v":30,"s":"on"},{"d":1210,"v":39,"s":"on"},{"d":1213,"v":33,"s":"on"},{"d":1216,"v":28,"s":"on"},{"d":1219,"v":36,"s":"on"},{"d":1222,"v":31,"s":"on"},{"d":1225,"v":35,"s":"on"},{"d":1228,"v":29,"s":"on"},{"d":1231,"v":33,"s":"on"},{"d":1234,"v":27,"s":"on"},{"d":1237,"v":31,"s":"on"},{"d":1240,"v":34,"s":"on"},{"d":1243,"v":29,"s":"on"},{"d":1246,"v":26,"s":"on"},
{"d":1294,"v":38,"s":"on"},{"d":1297,"v":35,"s":"on"},{"d":1300,"v":32,"s":"on"},{"d":1303,"v":36,"s":"on"},{"d":1306,"v":30,"s":"on"},{"d":1309,"v":34,"s":"on"},{"d":1312,"v":27,"s":"on"},{"d":1315,"v":33,"s":"on"},{"d":1318,"v":29,"s":"on"},{"d":1321,"v":36,"s":"on"},{"d":1324,"v":31,"s":"on"},{"d":1327,"v":28,"s":"on"},{"d":1330,"v":34,"s":"on"},{"d":1333,"v":30,"s":"on"},
{"d":1390,"v":37,"s":"on"},{"d":1393,"v":44,"s":"on"},{"d":1396,"v":41,"s":"on"},{"d":1399,"v":49,"s":"on"},{"d":1402,"v":46,"s":"on"},{"d":1405,"v":42,"s":"on"},{"d":1408,"v":39,"s":"on"},{"d":1411,"v":43,"s":"on"},{"d":1414,"v":36,"s":"on"},{"d":1417,"v":40,"s":"on"},{"d":1420,"v":34,"s":"on"},{"d":1423,"v":41,"s":"on"},{"d":1426,"v":38,"s":"on"},{"d":1429,"v":32,"s":"on"},{"d":1432,"v":43,"s":"on"},{"d":1435,"v":37,"s":"on"}
],
"boxa":[{"k":1,"lo":141,"q1":226,"med":253,"q3":283,"hi":365},{"k":2,"lo":192,"q1":273,"med":300,"q3":328,"hi":405}],
"outa":[{"k":1,"v":132},{"k":1,"v":123},{"k":1,"v":62},{"k":2,"v":410},{"k":2,"v":191},{"k":2,"v":171}],
"boxb":[{"k":1,"lo":20.3,"q1":20.94,"med":21.8,"q3":22.6,"hi":23.6},{"k":2,"lo":22.6,"q1":23.9,"med":24.8,"q3":25.97,"hi":26.35}],
"outb":[{"k":2,"v":29.3},{"k":2,"v":19.8}],
"boxc":[{"k":1,"lo":19.8,"q1":28.9,"med":32.3,"q3":34.9,"hi":44},{"k":2,"lo":20.9,"q1":31.9,"med":36.3,"q3":40,"hi":52}],
"outc":[{"k":1,"v":50.2},{"k":1,"v":48.9},{"k":1,"v":47.8},{"k":1,"v":16.8},{"k":1,"v":15.8},{"k":2,"v":78},{"k":2,"v":58},{"k":2,"v":55},{"k":2,"v":53},{"k":2,"v":18.7},{"k":2,"v":14.7}]
},
"bounds":"flush",
"columns":2,
"spacing":{"row":20,"column":16},
"resolve":{"scale":{"shape":"independent","fill":"independent","stroke":"independent"},"legend":{"shape":"independent","fill":"independent","stroke":"independent"}},
"concat":[
 {"width":662,"height":388,
  "layer":[
   {"data":{"name":"a"},"mark":{"type":"point","size":62,"strokeWidth":1.1,"opacity":1},
    "encoding":{
     "x":{"field":"d","type":"quantitative","scale":{"domain":[-11,1500],"nice":false,"zero":false},"axis":{"values":[0,300,600,900,1200,1500],"labels":false,"title":null}},
     "y":{"field":"v","type":"quantitative","scale":{"domain":[0,500],"nice":false},"axis":{"values":[0,100,200,300,400,500],"title":"CH₄ production rate [m³ h⁻¹]","titlePadding":8.5}},
     "shape":{"field":"s","type":"nominal","scale":{"domain":["off","on"],"range":["M-1,-1L1,1M-1,1L1,-1","circle"]},"legend":{"title":null,"labelExpr":"'Thermal pressure hydrolysis: ' + datum.label","legendX":333,"legendY":328}},
     "fill":{"field":"s","type":"nominal","scale":{"domain":["off","on"],"range":["transparent","#f4f400"]},"legend":{"title":null,"labelExpr":"'Thermal pressure hydrolysis: ' + datum.label","legendX":333,"legendY":328}},
     "stroke":{"field":"s","type":"nominal","scale":{"domain":["off","on"],"range":["#1f1f80","#4a4a1a"]},"legend":{"title":null,"labelExpr":"'Thermal pressure hydrolysis: ' + datum.label","legendX":333,"legendY":328}}
    }},
   {"data":{"values":[{}]},"mark":{"type":"text","font":"Liberation Sans","fontSize":18,"align":"left","baseline":"middle","color":"#222"},"encoding":{"x":{"datum":0},"y":{"datum":477},"text":{"value":"(a)"}}}
  ]},
 {"width":189,"height":388,"view":{"stroke":null},
  "resolve":{"axis":{"x":"independent"}},
  "layer":[
   {"layer":[
   {"data":{"name":"boxa"},"mark":{"type":"rule","color":"#444","strokeWidth":1},
    "encoding":{"x":{"field":"k","type":"quantitative","scale":{"domain":[0.5,2.4388],"nice":false,"zero":false},"axis":{"values":[1,2],"labels":false,"title":null}},
     "y":{"field":"lo","type":"quantitative","scale":{"domain":[0,500],"nice":false},"axis":{"values":[0,100,200,300,400,500],"labels":false,"title":null}},
     "y2":{"field":"hi"}}},
   {"data":{"name":"boxa"},"mark":{"type":"bar","size":60,"strokeWidth":1},
    "encoding":{"x":{"field":"k","type":"quantitative"},"y":{"field":"q1","type":"quantitative"},"y2":{"field":"q3"},
     "fill":{"field":"k","type":"nominal","scale":{"domain":[1,2],"range":["#7b7bef","#ffff00"]},"legend":null},
     "stroke":{"field":"k","type":"nominal","scale":{"domain":[1,2],"range":["#3434a8","#8c8c00"]},"legend":null}}},
   {"data":{"name":"boxa"},"mark":{"type":"tick","orient":"horizontal","size":60,"thickness":1.4,"color":"#333"},"encoding":{"x":{"field":"k","type":"quantitative"},"y":{"field":"med","type":"quantitative"}}},
   {"data":{"name":"boxa"},"mark":{"type":"tick","orient":"horizontal","size":32,"thickness":1.2,"color":"#444"},"encoding":{"x":{"field":"k","type":"quantitative"},"y":{"field":"lo","type":"quantitative"}}},
   {"data":{"name":"boxa"},"mark":{"type":"tick","orient":"horizontal","size":32,"thickness":1.2,"color":"#444"},"encoding":{"x":{"field":"k","type":"quantitative"},"y":{"field":"hi","type":"quantitative"}}},
   {"data":{"name":"outa"},"mark":{"type":"point","shape":"circle","size":40,"color":"#333","strokeWidth":1,"filled":false,"opacity":1},"encoding":{"x":{"field":"k","type":"quantitative"},"y":{"field":"v","type":"quantitative"}}},
   {"data":{"values":[{}]},"mark":{"type":"text","fontSize":21,"baseline":"middle","align":"center","color":"#111"},"encoding":{"x":{"datum":1},"y":{"datum":296.6},"text":{"value":"OFF"}}},
   {"data":{"values":[{}]},"mark":{"type":"text","fontSize":21,"baseline":"middle","align":"center","color":"#111"},"encoding":{"x":{"datum":2},"y":{"datum":339.8},"text":{"value":"ON"}}},
   {"data":{"values":[{}]},"mark":{"type":"text","fontSize":19.5,"fontWeight":"bold","baseline":"middle","align":"center","color":"#111"},"encoding":{"x":{"datum":1.449},"y":{"datum":312.4},"text":{"value":"18%"}}},
   {"data":{"values":[{}]},"mark":{"type":"rule","color":"black","strokeWidth":9},"encoding":{"x":{"datum":1.296},"x2":{"datum":1.54},"y":{"datum":263.4},"y2":{"datum":285.1}}},
   {"data":{"values":[{}]},"mark":{"type":"point","shape":"triangle-up","filled":true,"color":"black","size":420,"angle":55,"opacity":1},"encoding":{"x":{"datum":1.606},"y":{"datum":291.0}}}
   ]},
   {"data":{"values":[{}]},"mark":{"type":"point","opacity":0},"encoding":{"x":{"datum":1,"type":"quantitative","axis":{"orient":"top","labels":false,"ticks":false,"title":null}}}}
  ]},
 {"width":662,"height":388,
  "layer":[
   {"data":{"values":[{}]},"mark":{"type":"rule","color":"#f07a3c","strokeWidth":2,"strokeDash":[6,5]},"encoding":{"x":{"datum":480}}},
   {"data":{"name":"b"},"mark":{"type":"point","size":62,"strokeWidth":1.1,"opacity":1},
    "encoding":{
     "x":{"field":"d","type":"quantitative","scale":{"domain":[-11,1500],"nice":false,"zero":false},"axis":{"values":[0,300,600,900,1200,1500],"labels":false,"title":null}},
     "y":{"field":"v","type":"quantitative","scale":{"domain":[0,30],"nice":false},"axis":{"values":[0,5,10,15,20,25,30],"labelExpr":"datum.value % 10 === 0 ? datum.label : ''","title":"Dry matter content of dewatered digestate [%]","titlePadding":4}},
     "shape":{"field":"s","type":"nominal","scale":{"domain":["off","on"],"range":["M-1,-1L1,1M-1,1L1,-1","circle"]},"legend":{"title":null,"labelExpr":"'Thermal pressure hydrolysis: ' + datum.label","legendX":333,"legendY":328}},
     "fill":{"field":"s","type":"nominal","scale":{"domain":["off","on"],"range":["transparent","#f4f400"]},"legend":{"title":null,"labelExpr":"'Thermal pressure hydrolysis: ' + datum.label","legendX":333,"legendY":328}},
     "stroke":{"field":"s","type":"nominal","scale":{"domain":["off","on"],"range":["#1f1f80","#4a4a1a"]},"legend":{"title":null,"labelExpr":"'Thermal pressure hydrolysis: ' + datum.label","legendX":333,"legendY":328}}
    }},
   {"data":{"values":[{}]},"mark":{"type":"text","font":"Liberation Sans","fontSize":18,"align":"left","baseline":"middle","color":"#222"},"encoding":{"x":{"datum":0},"y":{"datum":27.85},"text":{"value":"(b)"}}},
   {"data":{"values":[{}]},"mark":{"type":"text","fontSize":20.5,"align":"left","baseline":"middle","color":"#f07a3c"},"encoding":{"x":{"datum":466},"y":{"datum":14.06},"text":{"value":"Adjustment of polymer"}}},
   {"data":{"values":[{}]},"mark":{"type":"text","fontSize":20.5,"align":"left","baseline":"middle","color":"#f07a3c"},"encoding":{"x":{"datum":466},"y":{"datum":12.06},"text":{"value":"type and dosage"}}}
  ]},
 {"width":189,"height":388,"view":{"stroke":null},
  "resolve":{"axis":{"x":"independent"}},
  "layer":[
   {"layer":[
   {"data":{"name":"boxb"},"mark":{"type":"rule","color":"#444","strokeWidth":1},
    "encoding":{"x":{"field":"k","type":"quantitative","scale":{"domain":[0.5,2.4388],"nice":false,"zero":false},"axis":{"values":[1,2],"labels":false,"title":null}},
     "y":{"field":"lo","type":"quantitative","scale":{"domain":[0,30],"nice":false},"axis":{"values":[0,5,10,15,20,25,30],"labels":false,"title":null}},
     "y2":{"field":"hi"}}},
   {"data":{"name":"boxb"},"mark":{"type":"bar","size":60,"strokeWidth":1},
    "encoding":{"x":{"field":"k","type":"quantitative"},"y":{"field":"q1","type":"quantitative"},"y2":{"field":"q3"},
     "fill":{"field":"k","type":"nominal","scale":{"domain":[1,2],"range":["#7b7bef","#ffff00"]},"legend":null},
     "stroke":{"field":"k","type":"nominal","scale":{"domain":[1,2],"range":["#3434a8","#8c8c00"]},"legend":null}}},
   {"data":{"name":"boxb"},"mark":{"type":"tick","orient":"horizontal","size":60,"thickness":1.4,"color":"#333"},"encoding":{"x":{"field":"k","type":"quantitative"},"y":{"field":"med","type":"quantitative"}}},
   {"data":{"name":"boxb"},"mark":{"type":"tick","orient":"horizontal","size":32,"thickness":1.2,"color":"#444"},"encoding":{"x":{"field":"k","type":"quantitative"},"y":{"field":"lo","type":"quantitative"}}},
   {"data":{"name":"boxb"},"mark":{"type":"tick","orient":"horizontal","size":32,"thickness":1.2,"color":"#444"},"encoding":{"x":{"field":"k","type":"quantitative"},"y":{"field":"hi","type":"quantitative"}}},
   {"data":{"name":"outb"},"mark":{"type":"point","shape":"circle","size":40,"color":"#333","strokeWidth":1,"filled":false,"opacity":1},"encoding":{"x":{"field":"k","type":"quantitative"},"y":{"field":"v","type":"quantitative"}}},
   {"data":{"values":[{}]},"mark":{"type":"text","fontSize":21,"baseline":"middle","align":"center","color":"#111"},"encoding":{"x":{"datum":1},"y":{"datum":24.32},"text":{"value":"OFF"}}},
   {"data":{"values":[{}]},"mark":{"type":"text","fontSize":21,"baseline":"middle","align":"center","color":"#111"},"encoding":{"x":{"datum":2},"y":{"datum":27.07},"text":{"value":"ON"}}},
   {"data":{"values":[{}]},"mark":{"type":"text","fontSize":19.5,"fontWeight":"bold","baseline":"middle","align":"center","color":"#111"},"encoding":{"x":{"datum":1.436},"y":{"datum":25.27},"text":{"value":"14%"}}},
   {"data":{"values":[{}]},"mark":{"type":"rule","color":"black","strokeWidth":9},"encoding":{"x":{"datum":1.296},"x2":{"datum":1.526},"y":{"datum":22.26},"y2":{"datum":23.65}}},
   {"data":{"values":[{}]},"mark":{"type":"point","shape":"triangle-up","filled":true,"color":"black","size":420,"angle":51,"opacity":1},"encoding":{"x":{"datum":1.59},"y":{"datum":24.03}}},
   {"data":{"values":[{}]},"mark":{"type":"text","fontSize":17.5,"fontWeight":"bold","baseline":"middle","align":"center","color":"#111"},"encoding":{"x":{"datum":1},"y":{"datum":4.25},"text":{"value":"before"}}},
   {"data":{"values":[{}]},"mark":{"type":"text","fontSize":17.5,"fontWeight":"bold","baseline":"middle","align":"center","color":"#111"},"encoding":{"x":{"datum":2},"y":{"datum":4.25},"text":{"value":"after"}}},
   {"data":{"values":[{}]},"mark":{"type":"text","fontSize":17.5,"baseline":"middle","align":"center","color":"#111"},"encoding":{"x":{"datum":1},"y":{"datum":2.63},"text":{"value":"polymer"}}},
   {"data":{"values":[{}]},"mark":{"type":"text","fontSize":17.5,"baseline":"middle","align":"center","color":"#111"},"encoding":{"x":{"datum":2},"y":{"datum":2.63},"text":{"value":"polymer"}}},
   {"data":{"values":[{}]},"mark":{"type":"text","fontSize":17.5,"baseline":"middle","align":"center","color":"#111"},"encoding":{"x":{"datum":1},"y":{"datum":1.08},"text":{"value":"adjustment"}}},
   {"data":{"values":[{}]},"mark":{"type":"text","fontSize":17.5,"baseline":"middle","align":"center","color":"#111"},"encoding":{"x":{"datum":2},"y":{"datum":1.08},"text":{"value":"adjustment"}}}
   ]},
   {"data":{"values":[{}]},"mark":{"type":"point","opacity":0},"encoding":{"x":{"datum":1,"type":"quantitative","axis":{"orient":"top","labels":false,"ticks":false,"title":null}}}}
  ]},
 {"width":662,"height":388,
  "layer":[
   {"data":{"values":[{}]},"mark":{"type":"rule","color":"#1fa67a","strokeWidth":2,"strokeDash":[8,6]},"encoding":{"y":{"datum":50}}},
   {"data":{"name":"c"},"mark":{"type":"point","size":62,"strokeWidth":1.1,"opacity":1},
    "encoding":{
     "x":{"field":"d","type":"quantitative","scale":{"domain":[-11,1500],"nice":false,"zero":false},"axis":{"values":[0,300,600,900,1200,1500],"format":"d","title":"Time [d]","labelPadding":8,"titlePadding":3}},
     "y":{"field":"v","type":"quantitative","scale":{"domain":[0,100],"nice":false},"axis":{"values":[0,12.5,25,37.5,50,62.5,75,87.5,100],"labelExpr":"datum.value % 25 === 0 ? datum.label : ''","title":"Dissolved COD in WWTP effluent [mg L⁻¹]","titlePadding":3.5}},
     "shape":{"field":"s","type":"nominal","scale":{"domain":["off","on"],"range":["M-1,-1L1,1M-1,1L1,-1","circle"]},"legend":{"title":null,"labelExpr":"'Thermal pressure hydrolysis: ' + datum.label","legendX":340,"legendY":335}},
     "fill":{"field":"s","type":"nominal","scale":{"domain":["off","on"],"range":["transparent","#f4f400"]},"legend":{"title":null,"labelExpr":"'Thermal pressure hydrolysis: ' + datum.label","legendX":340,"legendY":335}},
     "stroke":{"field":"s","type":"nominal","scale":{"domain":["off","on"],"range":["#1f1f80","#4a4a1a"]},"legend":{"title":null,"labelExpr":"'Thermal pressure hydrolysis: ' + datum.label","legendX":340,"legendY":335}}
    }},
   {"data":{"values":[{}]},"mark":{"type":"text","font":"Liberation Sans","fontSize":18,"align":"left","baseline":"middle","color":"#222"},"encoding":{"x":{"datum":0},"y":{"datum":93.5},"text":{"value":"(c)"}}},
   {"data":{"values":[{}]},"mark":{"type":"text","fontSize":21,"align":"left","baseline":"middle","color":"#1fa67a"},"encoding":{"x":{"datum":13},"y":{"datum":52.9},"text":{"value":"Threshold"}}}
  ]},
 {"width":189,"height":388,"view":{"stroke":null},
  "resolve":{"axis":{"x":"independent"}},
  "layer":[
   {"layer":[
   {"data":{"values":[{}]},"mark":{"type":"rule","color":"#1fa67a","strokeWidth":2,"strokeDash":[8,6]},"encoding":{"y":{"datum":50}}},
   {"data":{"name":"boxc"},"mark":{"type":"rule","color":"#444","strokeWidth":1},
    "encoding":{"x":{"field":"k","type":"quantitative","scale":{"domain":[0.5,2.4388],"nice":false,"zero":false},"axis":{"values":[1,2],"labelExpr":"datum.value == 1 ? 'TPH off' : 'TPH on'","labelPadding":10,"title":null}},
     "y":{"field":"lo","type":"quantitative","scale":{"domain":[0,100],"nice":false},"axis":{"values":[0,12.5,25,37.5,50,62.5,75,87.5,100],"labels":false,"title":null}},
     "y2":{"field":"hi"}}},
   {"data":{"name":"boxc"},"mark":{"type":"bar","size":60,"strokeWidth":1},
    "encoding":{"x":{"field":"k","type":"quantitative"},"y":{"field":"q1","type":"quantitative"},"y2":{"field":"q3"},
     "fill":{"field":"k","type":"nominal","scale":{"domain":[1,2],"range":["#7b7bef","#ffff00"]},"legend":null},
     "stroke":{"field":"k","type":"nominal","scale":{"domain":[1,2],"range":["#3434a8","#8c8c00"]},"legend":null}}},
   {"data":{"name":"boxc"},"mark":{"type":"tick","orient":"horizontal","size":60,"thickness":1.4,"color":"#333"},"encoding":{"x":{"field":"k","type":"quantitative"},"y":{"field":"med","type":"quantitative"}}},
   {"data":{"name":"boxc"},"mark":{"type":"tick","orient":"horizontal","size":32,"thickness":1.2,"color":"#444"},"encoding":{"x":{"field":"k","type":"quantitative"},"y":{"field":"lo","type":"quantitative"}}},
   {"data":{"name":"boxc"},"mark":{"type":"tick","orient":"horizontal","size":32,"thickness":1.2,"color":"#444"},"encoding":{"x":{"field":"k","type":"quantitative"},"y":{"field":"hi","type":"quantitative"}}},
   {"data":{"name":"outc"},"mark":{"type":"point","shape":"circle","size":40,"color":"#333","strokeWidth":1,"filled":false,"opacity":1},"encoding":{"x":{"field":"k","type":"quantitative"},"y":{"field":"v","type":"quantitative"}}},
   {"data":{"values":[{}]},"mark":{"type":"text","fontSize":21,"baseline":"middle","align":"center","color":"#111"},"encoding":{"x":{"datum":1},"y":{"datum":37.45},"text":{"value":"OFF"}}},
   {"data":{"values":[{}]},"mark":{"type":"text","fontSize":21,"baseline":"middle","align":"center","color":"#111"},"encoding":{"x":{"datum":2},"y":{"datum":42.6},"text":{"value":"ON"}}},
   {"data":{"values":[{}]},"mark":{"type":"text","fontSize":19.5,"fontWeight":"bold","baseline":"middle","align":"center","color":"#111"},"encoding":{"x":{"datum":1.459},"y":{"datum":40.46},"text":{"value":"13%"}}},
   {"data":{"values":[{}]},"mark":{"type":"rule","color":"black","strokeWidth":9},"encoding":{"x":{"datum":1.327},"x2":{"datum":1.539},"y":{"datum":31.44},"y2":{"datum":35.05}}},
   {"data":{"values":[{}]},"mark":{"type":"point","shape":"triangle-up","filled":true,"color":"black","size":420,"angle":56,"opacity":1},"encoding":{"x":{"datum":1.606},"y":{"datum":36.21}}}
   ]},
   {"data":{"values":[{}]},"mark":{"type":"point","opacity":0},"encoding":{"x":{"datum":1,"type":"quantitative","axis":{"orient":"top","labels":false,"ticks":false,"title":null}}}}
  ]}
]
}
